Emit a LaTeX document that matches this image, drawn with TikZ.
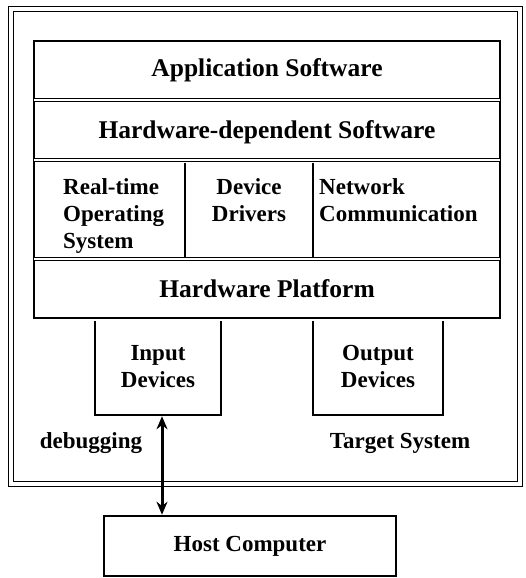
\documentclass[tikz,border=0pt]{standalone}
\usepackage{fontspec}
\setmainfont{Liberation Serif}
\usetikzlibrary{calc,arrows.meta}

\begin{document}
\begin{tikzpicture}
 [
  x=1pt, y=-1pt,
  >={Stealth[length=13pt,width=11pt]},
  every node/.style = {font=\bfseries\fontsize{23}{27}\selectfont},
  layer/.style = {rectangle, inner sep=0pt, minimum width=466pt,
                  font=\bfseries\fontsize{25.5}{27}\selectfont},
  box/.style   = {draw, line width=2.5pt, rectangle, inner sep=0pt, align=center},
  sep/.style   = {double, double distance=2.5pt, line width=1pt},
 ]
 \useasboundingbox (0,0) rectangle (526,578);

 % the target system frame
 \node (target) at (265.5,246.5) [draw, double, double distance=3.5pt, line width=1pt,
   minimum width=509pt, minimum height=475pt, inner sep=0pt]{};

 % the layers
 \node (app) at (267,70.5) [layer, minimum height=59pt]{Application Software};
 \node (hds) at (267,132) [layer, minimum height=56pt]{Hardware-dependent Software};
 \node (hw) at (267,288.5) [layer, minimum height=59pt]{Hardware Platform};
 \node (rtos) at (63,178) [anchor=north west, inner sep=0pt, align=left]{Real-time\\Operating\\System};
 \node (drv) at (249,178) [anchor=north, inner sep=0pt, align=center]{Device\\Drivers};
 \node (net) at (319,178) [anchor=north west, inner sep=0pt, align=left]{Network\\Communication};

 \draw[line width=2.5pt] (34,41) rectangle (500,318);
 \draw[sep] (app.south west) -- (app.south east);
 \draw[sep] (hds.south west) -- (hds.south east);
 \draw[sep] (hw.north west) -- (hw.north east);
 \draw[line width=1.5pt] (185,163) -- (185,257);
 \draw[line width=1.5pt] (313,163) -- (313,257);

 % the devices
 \node (input) at (158,366.5) [box, minimum width=126pt, minimum height=97pt]{Input\\Devices};
 \node (output) at (378,366.5) [box, minimum width=130pt, minimum height=97pt]{Output\\Devices};
 \fill[white] (92,317) rectangle (446,321);
 \draw[line width=2.5pt] (34,318) -- (500,318);

 \node (dbg) at (91,443) {debugging};
 \node (tgt) at (400,443) {Target System};

 % the host
 \node (host) at (250,546) [box, minimum width=292pt, minimum height=60pt]{Host Computer};
 \coordinate (link) at ($(input.south)+(4,0)$);
 \draw[<->, line width=3pt] (link) -- (link |- host.north);
\end{tikzpicture}
\end{document}
